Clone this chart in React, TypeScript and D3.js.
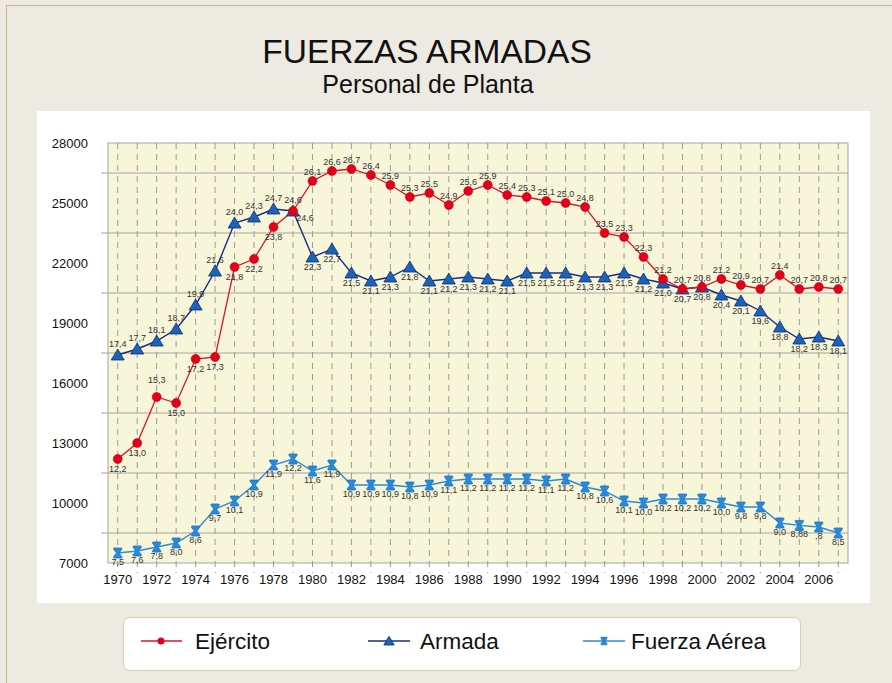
import React from 'react';
import * as d3 from 'd3';

const years = d3.range(1970, 2008);

// thousands of people
const ejercito = [
  12.2, 13.0, 15.3, 15.0, 17.2, 17.3, 21.8, 22.2, 23.8, 24.6,
  26.1, 26.6, 26.7, 26.4, 25.9, 25.3, 25.5, 24.9, 25.6, 25.9,
  25.4, 25.3, 25.1, 25.0, 24.8, 23.5, 23.3, 22.3, 21.2, 20.7,
  20.8, 21.2, 20.9, 20.7, 21.4, 20.7, 20.8, 20.7,
];
const armada = [
  17.4, 17.7, 18.1, 18.7, 19.9, 21.6, 24.0, 24.3, 24.7, 24.6,
  22.3, 22.7, 21.5, 21.1, 21.3, 21.8, 21.1, 21.2, 21.3, 21.2,
  21.1, 21.5, 21.5, 21.5, 21.3, 21.3, 21.5, 21.2, 21.0, 20.7,
  20.8, 20.4, 20.1, 19.6, 18.8, 18.2, 18.3, 18.1,
];
const fuerzaAerea = [
  7.5, 7.6, 7.8, 8.0, 8.6, 9.7, 10.1, 10.9, 11.9, 12.2,
  11.6, 11.9, 10.9, 10.9, 10.9, 10.8, 10.9, 11.1, 11.2, 11.2,
  11.2, 11.2, 11.1, 11.2, 10.8, 10.6, 10.1, 10.0, 10.2, 10.2,
  10.2, 10.0, 9.8, 9.8, 9.0, 8.88, 8.8, 8.5,
];
// labels that the source printed oddly
const faLabelOverrides: Record<number, string> = { 2005: '8,88', 2006: ',8' };

const yTickLabels = [7000, 10000, 13000, 16000, 19000, 22000, 25000, 28000];
const yGridValues = [8500, 11500, 14500, 17500, 20500, 23500, 26500];
const xTickLabels = d3.range(1970, 2007, 2);

const W = 892;
const H = 683;
const plot = { left: 108, right: 848, top: 143, bottom: 563 };
const FONT = '"Liberation Sans", Arial, sans-serif';

const fmt = (v: number) => v.toFixed(1).replace('.', ',');

function Triangle({ x, y, s = 1 }: { x: number; y: number; s?: number }) {
  return (
    <path
      d={`M${x},${y - 6 * s}L${x + 6.5 * s},${y + 5 * s}L${x - 6.5 * s},${y + 5 * s}Z`}
      fill="#1c63b8"
      stroke="#0e2f73"
      strokeWidth={0.8}
    />
  );
}

function Hourglass({ x, y, s = 1 }: { x: number; y: number; s?: number }) {
  const w = 4 * s, h = 5 * s, n = 1.2 * s, k = 3.5 * s;
  return (
    <path
      d={`M${x - w},${y - h}H${x + w}V${y - k}L${x + n},${y}L${x + w},${y + k}V${y + h}H${x - w}V${y + k}L${x - n},${y}L${x - w},${y - k}Z`}
      fill="#2a8ad8"
      stroke="#1572c4"
      strokeWidth={0.8}
    />
  );
}

export default function App() {
  const x = d3.scalePoint<number>().domain(years).range([plot.left, plot.right]).padding(0.5);
  const y = d3.scaleLinear().domain([7000, 28000]).range([plot.bottom, plot.top]);

  const line = (vals: number[]) =>
    d3.line<number>()
      .x((_, i) => x(years[i]) as number)
      .y((v) => y(v * 1000))(vals) as string;

  const labelStyle = { fontFamily: FONT, fontSize: 9, fill: '#333' } as const;

  return (
    <svg width={W} height={H} style={{ position: 'absolute', left: 0, top: 0 }}>
      <rect x={0} y={0} width={W} height={H} fill="#edeae2" />
      <rect x={6.5} y={5.5} width={W + 20} height={H + 20} fill="none" stroke="#cbb58e" />
      <rect x={37} y={111} width={833} height={492} fill="#ffffff" />

      <text x={427} y={63} textAnchor="middle" fontFamily={FONT} fontSize={33.5} fill="#111">
        FUERZAS ARMADAS
      </text>
      <text x={428} y={93} textAnchor="middle" fontFamily={FONT} fontSize={25} fill="#111">
        Personal de Planta
      </text>

      {/* plot area */}
      <rect
        x={plot.left}
        y={plot.top}
        width={plot.right - plot.left}
        height={plot.bottom - plot.top}
        fill="#f8f6d9"
        stroke="#a3a3a3"
      />
      {yGridValues.map((v) => (
        <g key={v}>
          <line x1={plot.left} x2={plot.right} y1={y(v)} y2={y(v)} stroke="#a3a3a3" strokeWidth={1.2} />
          <line x1={plot.left - 7} x2={plot.left} y1={y(v)} y2={y(v)} stroke="#a3a3a3" />
        </g>
      ))}
      {years.map((yr) => (
        <line
          key={yr}
          x1={x(yr)}
          x2={x(yr)}
          y1={plot.top}
          y2={plot.bottom + 10}
          stroke="#9a9a9a"
          strokeDasharray="6,5"
        />
      ))}
      {yTickLabels.map((v) => (
        <text key={v} x={88} y={y(v) + 4.5} textAnchor="end" fontFamily={FONT} fontSize={13} fill="#111">
          {v}
        </text>
      ))}
      {xTickLabels.map((yr) => (
        <text key={yr} x={x(yr)} y={584} textAnchor="middle" fontFamily={FONT} fontSize={13} fill="#111">
          {yr}
        </text>
      ))}

      {/* lines */}
      <path d={line(fuerzaAerea)} fill="none" stroke="#2c8ad2" strokeWidth={1.4} />
      <path d={line(armada)} fill="none" stroke="#1b2d7e" strokeWidth={1.4} />
      <path d={line(ejercito)} fill="none" stroke="#d8152c" strokeWidth={1.3} />

      {/* markers */}
      {fuerzaAerea.map((v, i) => (
        <Hourglass key={i} x={x(years[i]) as number} y={y(v * 1000)} />
      ))}
      {armada.map((v, i) => (
        <Triangle key={i} x={x(years[i]) as number} y={y(v * 1000)} />
      ))}
      {ejercito.map((v, i) => (
        <circle key={i} cx={x(years[i]) as number} cy={y(v * 1000)} r={4.5} fill="#e3001b" stroke="#c2001a" strokeWidth={0.6} />
      ))}

      {/* data labels */}
      {fuerzaAerea.map((v, i) => (
        <text key={i} x={x(years[i]) as number} y={y(v * 1000) + 12} textAnchor="middle" {...labelStyle}>
          {faLabelOverrides[years[i]] ?? fmt(v)}
        </text>
      ))}
      {armada.map((v, i) => {
        const above = years[i] <= 1979;
        return (
          <text key={i} x={x(years[i]) as number} y={y(v * 1000) + (above ? -8.5 : 13)} textAnchor="middle" {...labelStyle}>
            {fmt(v)}
          </text>
        );
      })}
      {ejercito.map((v, i) => {
        const yr = years[i];
        const below = yr <= 1978 && yr !== 1972;
        let dx = 0;
        let dy = below ? 13 : -6;
        if (yr === 1972) dy = -14;
        if (yr === 1979) {
          dx = 12;
          dy = 10;
        }
        return (
          <text key={i} x={(x(yr) as number) + dx} y={y(v * 1000) + dy} textAnchor="middle" {...labelStyle}>
            {fmt(v)}
          </text>
        );
      })}

      {/* legend */}
      <rect x={123.5} y={617.5} width={677} height={53} rx={6} fill="#ffffff" stroke="#d9ccb0" />
      <line x1={141} x2={182} y1={641} y2={641} stroke="#d8152c" strokeWidth={1.3} />
      <circle cx={161} cy={641} r={3.5} fill="#e3001b" />
      <text x={195} y={649} fontFamily={FONT} fontSize={22.5} fill="#111">Ejército</text>
      <line x1={368} x2={410} y1={641} y2={641} stroke="#1b2d7e" strokeWidth={1.4} />
      <Triangle x={389} y={641} s={0.8} />
      <text x={420} y={649} fontFamily={FONT} fontSize={22.5} fill="#111">Armada</text>
      <line x1={583} x2={625} y1={641} y2={641} stroke="#2c8ad2" strokeWidth={1.4} />
      <Hourglass x={604} y={641} s={0.75} />
      <text x={631} y={649} fontFamily={FONT} fontSize={22.5} fill="#111">Fuerza Aérea</text>
    </svg>
  );
}
